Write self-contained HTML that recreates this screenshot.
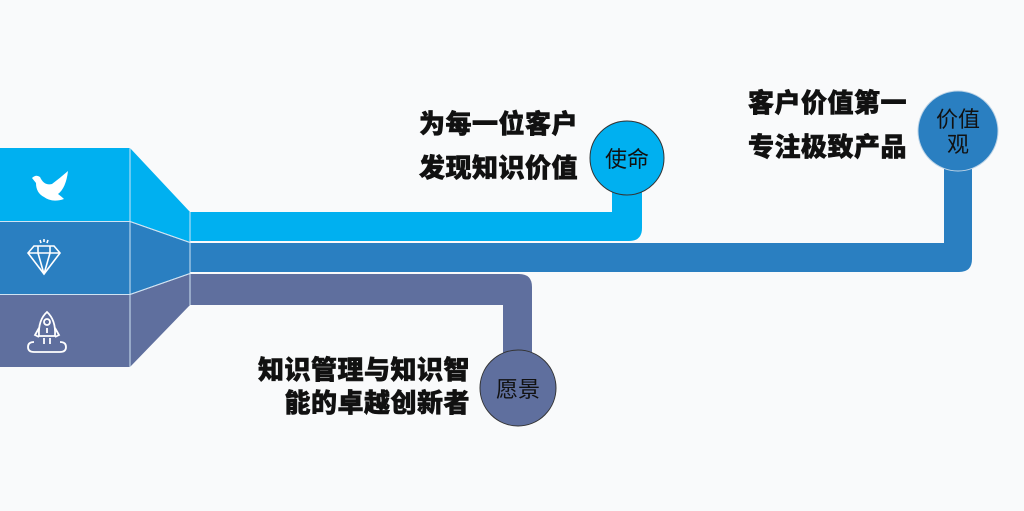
<!DOCTYPE html>
<html><head><meta charset="utf-8"><style>
html,body{margin:0;padding:0;background:#f9fafb;}
body{width:1024px;height:511px;position:relative;overflow:hidden;font-family:"Liberation Sans","Noto Sans CJK SC",sans-serif;}
.t{position:absolute;font-weight:900;font-size:26px;color:#111;white-space:nowrap;line-height:30px;letter-spacing:0.5px;-webkit-text-stroke:0.6px #111;}
.c{position:absolute;font-size:22px;color:#111;text-align:center;display:flex;align-items:center;justify-content:center;line-height:25px;font-family:"Noto Sans CJK SC",sans-serif;}
</style></head><body>
<svg width="1024" height="511" style="position:absolute;left:0;top:0">
  <path d="M190 212 H642 V228 Q642 241 629 241 H190 Z" fill="#00b0f0"/>
  <rect x="612" y="160" width="30" height="60" fill="#00b0f0"/>
  <path d="M190 243 H944 V130 H972 V259 Q972 272 959 272 H190 Z" fill="#2a7fc1"/>
  <path d="M190 274 H519 Q532 274 532 287 V390 H503 V305 H190 Z" fill="#5f6f9e"/>
  <rect x="0" y="148" width="130" height="73" fill="#00b0f0"/>
  <rect x="0" y="222" width="130" height="72" fill="#2a7fc1"/>
  <rect x="0" y="295" width="130" height="72" fill="#5f6f9e"/>
  <polygon points="130,148 190,212 190,242 130,221" fill="#00b0f0"/>
  <polygon points="130,222 190,243 190,273 130,294" fill="#2a7fc1"/>
  <polygon points="130,295 190,274 190,305 130,367" fill="#5f6f9e"/>
  <g stroke="#cfe3f3" stroke-width="1" fill="none">
    <line x1="0" y1="221.5" x2="130" y2="221.5"/><line x1="0" y1="294.5" x2="130" y2="294.5"/>
    <line x1="130" y1="148" x2="130" y2="367"/><line x1="190" y1="212" x2="190" y2="305"/>
    <line x1="130" y1="221.5" x2="190" y2="242.5"/><line x1="130" y1="294.5" x2="190" y2="273.5"/>
  </g>
  <path d="M32 178 Q36 174 40 177 Q44 186 52 184 Q60 178 68 171 Q66 188 58 194 Q62 197 64 199 Q52 203 44 197 Q36 193 36 183 Z" fill="#fff"/>
  <g stroke="#fff" stroke-width="1.6" fill="none">
    <polygon points="34,246 54,246 60,253 44,274 28,253"/>
    <line x1="28" y1="253" x2="60" y2="253"/><line x1="38" y1="253" x2="44" y2="274"/><line x1="50" y1="253" x2="44" y2="274"/>
    <line x1="38" y1="246" x2="38" y2="253"/><line x1="50" y1="246" x2="50" y2="253"/>
    <line x1="40" y1="240" x2="41" y2="243"/><line x1="44" y1="239" x2="44" y2="242"/><line x1="48" y1="240" x2="47" y2="243"/>
  </g>
  <g stroke="#fff" stroke-width="1.8" fill="none">
    <path d="M47 312 Q38 320 39 336 H55 Q56 320 47 312 Z"/>
    <circle cx="47" cy="322" r="3"/><line x1="47" y1="328" x2="47" y2="333"/>
    <path d="M39 328 L35 335 L39 337"/><path d="M55 328 L59 335 L55 337"/>
    <path d="M34 342 Q28 342 28 347 Q28 352 34 352 H60 Q66 352 66 347 Q66 342 60 342"/>
    <line x1="44" y1="338" x2="44" y2="344"/><line x1="50" y1="338" x2="50" y2="344"/>
  </g>
  <circle cx="627" cy="158" r="37" fill="#00b0f0" stroke="#333" stroke-width="1"/>
  <circle cx="958" cy="131" r="40" fill="#2a7fc1" stroke="#bcd3e6" stroke-width="1"/>
  <circle cx="518" cy="388" r="38" fill="#5f6f9e" stroke="#333" stroke-width="1"/>
</svg>
<div class="c" style="left:590px;top:121px;width:74px;height:74px;">使命</div>
<div class="c" style="left:918px;top:91px;width:80px;height:80px;">价值<br>观</div>
<div class="c" style="left:480px;top:350px;width:76px;height:76px;">愿景</div>
<div class="t" style="right:446px;top:109px;text-align:right;">为每一位客户</div>
<div class="t" style="right:446px;top:153px;text-align:right;">发现知识价值</div>
<div class="t" style="left:748px;top:88px;">客户价值第一</div>
<div class="t" style="left:748px;top:132px;">专注极致产品</div>
<div class="t" style="right:554px;top:355px;text-align:right;">知识管理与知识智</div>
<div class="t" style="right:554px;top:388px;text-align:right;">能的卓越创新者</div>
</body></html>
